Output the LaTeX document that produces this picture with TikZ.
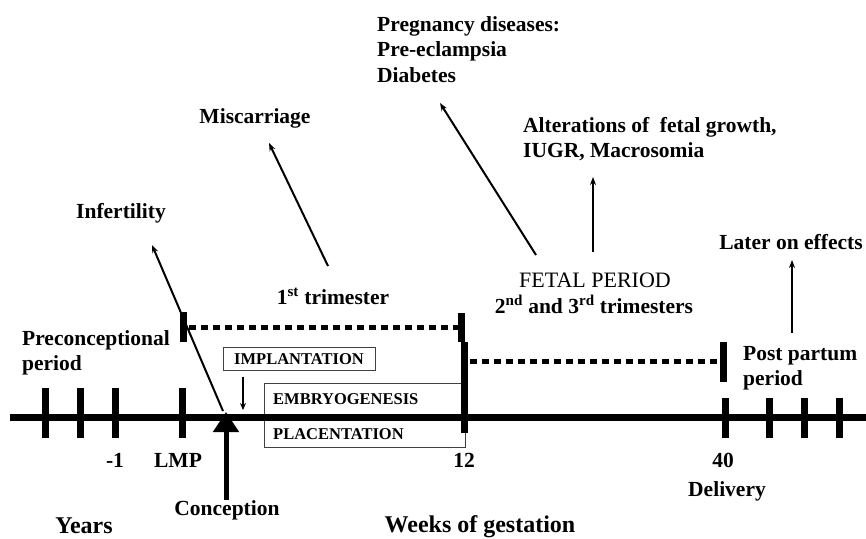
\documentclass[tikz,border=0pt]{standalone}
\usepackage{fontspec}
\setmainfont{Liberation Serif}
\usetikzlibrary{arrows.meta}
\begin{document}
\begin{tikzpicture}[x=1pt,y=-1pt,
  lbl/.style={inner sep=0pt,font=\fontsize{21.5}{25}\selectfont\bfseries},
  lblr/.style={inner sep=0pt,font=\fontsize{22}{25}\selectfont},
  big/.style={inner sep=0pt,font=\fontsize{24}{28}\selectfont\bfseries},
  boxtxt/.style={inner sep=0pt,font=\fontsize{16.5}{19}\selectfont\bfseries},
  thinarrow/.style={line width=2pt,-{Stealth[length=8pt,width=6pt]}},
  tickmark/.style={line width=7pt},
  dashline/.style={line width=5pt,dash pattern=on 7pt off 5pt},
  thinbox/.style={draw=black!75,line width=1pt,inner sep=0pt}
]
\useasboundingbox (0,0) rectangle (866,538);

% boxes
\node[thinbox,minimum width=152pt,minimum height=23pt] (implbox) at (299,358.5) {};
\node[boxtxt] (impl) at (299,359) {IMPLANTATION};
\node[thinbox,minimum width=201pt,minimum height=64pt] (epbox) at (364.5,415) {};
\node[boxtxt,anchor=base west] (embryo) at (273,404) {EMBRYOGENESIS};
\node[boxtxt,anchor=base west] (placenta) at (273,439) {PLACENTATION};

% main axis
\coordinate (axL) at (10,417);
\coordinate (axR) at (866,417);
\draw[line width=7pt] (axL) -- (axR);

% ticks
\foreach \i/\x in {1/45,2/80,3/115,4/182}{
  \coordinate (tA\i) at (\x,388); \coordinate (tB\i) at (\x,438);
  \draw[tickmark] (tA\i) -- (tB\i);
}
\foreach \i/\x in {5/725,6/769,7/804,8/839}{
  \coordinate (tA\i) at (\x,398); \coordinate (tB\i) at (\x,438);
  \draw[tickmark] (tA\i) -- (tB\i);
}
% week 12 tick
\coordinate (twA) at (461,313); \coordinate (twB) at (461,342);
\coordinate (twC) at (464,342); \coordinate (twD) at (464,433);
\draw[tickmark] (twA) -- (twB);
\draw[tickmark] (twC) -- (twD);
% LMP upper tick
\coordinate (tlA) at (183,312); \coordinate (tlB) at (183,342);
\draw[tickmark] (tlA) -- (tlB);
% week 40 upper tick
\coordinate (tfA) at (723,342); \coordinate (tfB) at (723,382);
\draw[tickmark] (tfA) -- (tfB);

% dashed periods
\coordinate (d1A) at (189,327); \coordinate (d1B) at (458,327);
\draw[dashline] (d1A) -- (d1B);
\coordinate (d2A) at (470,361); \coordinate (d2B) at (720,361);
\draw[dashline] (d2A) -- (d2B);

% text labels
\node[lbl] (infert) at (121,213) {Infertility};
\node[lbl] (misc) at (255,118) {Miscarriage};
\node[lbl,anchor=base west] (preg1) at (377,31) {Pregnancy diseases:};
\node[lbl,anchor=base west] (preg2) at (377,56.5) {Pre-eclampsia};
\node[lbl,anchor=base west] (preg3) at (377,82) {Diabetes};
\node[lbl,anchor=base west] (alt1) at (523,132) {Alterations of\ \ fetal growth,};
\node[lbl,anchor=base west] (alt2) at (523,157.5) {IUGR, Macrosomia};
\node[lbl,anchor=base] (later) at (791,249) {Later on effects};
\node[lblr,anchor=base] (fetal) at (595,287) {FETAL PERIOD};
\node[lbl,anchor=base] (trim23) at (594,313) {2\textsuperscript{nd} and 3\textsuperscript{rd} trimesters};
\node[lbl,anchor=base] (trim1) at (333,304) {1\textsuperscript{st} trimester};
\node[lbl,anchor=base west] (precon1) at (22,345) {Preconceptional};
\node[lbl,anchor=base west] (precon2) at (22,370) {period};
\node[lbl,anchor=base west] (post1) at (743,360) {Post partum};
\node[lbl,anchor=base west] (post2) at (743,385) {period};
\node[lbl,anchor=base] (m1) at (115,467) {-1};
\node[lbl,anchor=base] (lmp) at (178,467) {LMP};
\node[lbl,anchor=base] (w12) at (464,467) {12};
\node[lbl,anchor=base] (w40) at (723,467) {40};
\node[lbl,anchor=base] (deliv) at (727,496) {Delivery};
\node[lbl,anchor=base] (concep) at (227,515) {Conception};
\node[big,anchor=base] (years) at (84,533) {Years};
\node[big,anchor=base] (weeks) at (480,532) {Weeks of gestation};

% arrows
\coordinate (infS) at (223,411); \coordinate (infT) at (152,245);
\draw[thinarrow] (infS) -- (infT);
\coordinate (miscS) at (328,266); \coordinate (miscT) at (269,143);
\draw[thinarrow] (miscS) -- (miscT);
\coordinate (pregS) at (536,255); \coordinate (pregT) at (440,103);
\draw[thinarrow] (pregS) -- (pregT);
\coordinate (altS) at (593,252); \coordinate (altT) at (593,177);
\draw[thinarrow] (altS) -- (altT);
\coordinate (latS) at (792,333); \coordinate (latT) at (792,260);
\draw[thinarrow] (latS) -- (latT);
\coordinate (impS) at (243,377); \coordinate (impT) at (243,410);
\draw[line width=1.5pt,-{Stealth[length=7pt,width=6pt]}] (impS) -- (impT);
\coordinate (conS) at (226,500); \coordinate (conT) at (226,412);
\draw[line width=5pt,-{Triangle[length=20pt,width=25pt]}] (conS) -- (conT);
\end{tikzpicture}
\end{document}
